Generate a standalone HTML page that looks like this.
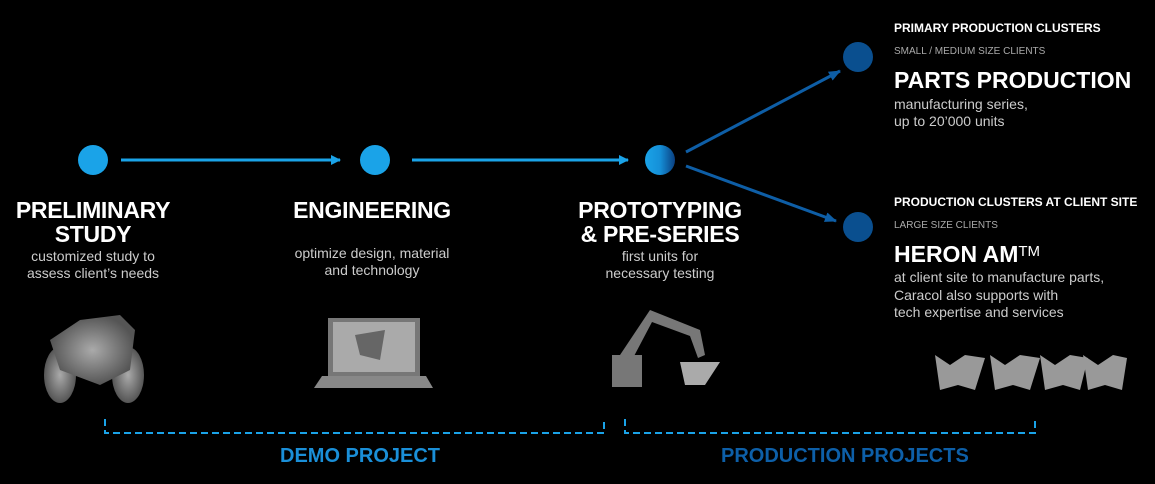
<!DOCTYPE html>
<html><head><style>
body{margin:0;width:1155px;height:484px;background:#000;overflow:hidden;font-family:"Liberation Sans",sans-serif;position:relative;color:#fff}
.t{position:absolute;white-space:nowrap}
.h{font-weight:bold;font-size:23px;line-height:24px;text-align:center;transform:translateX(-50%);letter-spacing:-0.3px}
.s{font-size:14px;line-height:17px;color:#ccc;text-align:center;transform:translateX(-50%)}
.r{left:894px}
</style></head><body>
<svg width="1155" height="484" style="position:absolute;left:0;top:0">
<defs>
<linearGradient id="g" x1="0" x2="1"><stop offset="0" stop-color="#1aa3e8"/><stop offset="0.5" stop-color="#1590d8"/><stop offset="1" stop-color="#0a3f80"/></linearGradient>
<marker id="a" markerWidth="10" markerHeight="10" refX="9" refY="5" orient="auto" markerUnits="userSpaceOnUse"><path d="M0,0L10,5L0,10z" fill="#1aa3e8"/></marker>
<marker id="b" markerWidth="12" markerHeight="10" refX="11" refY="5" orient="auto" markerUnits="userSpaceOnUse"><path d="M0,0L12,5L0,10z" fill="#0e5ea6"/></marker>
<radialGradient id="gr"><stop offset="0" stop-color="#aaa"/><stop offset="1" stop-color="#555"/></radialGradient>
</defs>
<circle cx="93" cy="160" r="15" fill="#1aa3e8"/>
<circle cx="375" cy="160" r="15" fill="#1aa3e8"/>
<circle cx="660" cy="160" r="15" fill="url(#g)"/>
<circle cx="858" cy="57" r="15" fill="#0a4f8f"/>
<circle cx="858" cy="227" r="15" fill="#0a4f8f"/>
<line x1="121" y1="160" x2="340" y2="160" stroke="#1aa3e8" stroke-width="3" marker-end="url(#a)"/>
<line x1="412" y1="160" x2="628" y2="160" stroke="#1aa3e8" stroke-width="3" marker-end="url(#a)"/>
<line x1="686" y1="152" x2="840" y2="71" stroke="#0e5ea6" stroke-width="3" marker-end="url(#b)"/>
<line x1="686" y1="166" x2="836" y2="221" stroke="#0e5ea6" stroke-width="3" marker-end="url(#b)"/>
<path d="M105,419V433H604V419" fill="none" stroke="#1aa3e8" stroke-width="2" stroke-dasharray="7,4"/>
<path d="M625,419V433H1035V419" fill="none" stroke="#1aa3e8" stroke-width="2" stroke-dasharray="7,4"/>
<g fill="url(#gr)">
<ellipse cx="60" cy="375" rx="16" ry="28"/><ellipse cx="128" cy="375" rx="16" ry="28"/>
<path d="M50,340L80,320L120,315L135,330L130,370L100,385L60,370z"/>
</g>
<rect x="328" y="318" width="92" height="58" fill="#777"/>
<rect x="333" y="322" width="82" height="50" fill="#aaa"/>
<path d="M355,335L385,330L380,360L360,355z" fill="#666"/>
<path d="M322,376H426L433,388H314z" fill="#888"/>
<g fill="#777">
<rect x="612" y="355" width="30" height="32"/>
<path d="M620,355L650,310L700,330L705,355L698,358L690,336L652,322L632,360z"/>
<path d="M680,362L720,362L705,385L685,385z" fill="#aaa"/>
</g>
<g fill="#999">
<path d="M935,355L950,365L965,355L985,358L975,390L958,385L940,390z"/>
<path d="M990,355L1005,365L1020,355L1040,358L1030,390L1013,385L995,390z"/>
<path d="M1040,355L1055,365L1070,355L1088,358L1080,390L1063,385L1045,390z"/>
<path d="M1083,355L1098,365L1113,355L1127,358L1122,390L1105,385L1088,390z"/>
</g>
</svg>
<div class="t h" style="left:93px;top:198px">PRELIMINARY<br>STUDY</div>
<div class="t s" style="left:93px;top:248px">customized study to<br>assess client’s needs</div>
<div class="t h" style="left:372px;top:198px">ENGINEERING</div>
<div class="t s" style="left:372px;top:245px">optimize design, material<br>and technology</div>
<div class="t h" style="left:660px;top:198px">PROTOTYPING<br>&amp; PRE-SERIES</div>
<div class="t s" style="left:660px;top:248px">first units for<br>necessary testing</div>
<div class="t r" style="top:21px;font-size:12px;font-weight:bold">PRIMARY PRODUCTION CLUSTERS</div>
<div class="t r" style="top:46px;font-size:10px;color:#aaa">SMALL / MEDIUM SIZE CLIENTS</div>
<div class="t r" style="top:67px;font-size:23px;font-weight:bold">PARTS PRODUCTION</div>
<div class="t r" style="top:96px;font-size:14px;line-height:17px;color:#ccc">manufacturing series,<br>up to 20’000 units</div>
<div class="t r" style="top:195px;font-size:12px;font-weight:bold">PRODUCTION CLUSTERS AT CLIENT SITE</div>
<div class="t r" style="top:220px;font-size:10px;color:#aaa">LARGE SIZE CLIENTS</div>
<div class="t r" style="top:241px;font-size:23px;font-weight:bold">HERON AM<span style="font-weight:normal;font-size:15px;vertical-align:6px">TM</span></div>
<div class="t r" style="top:269px;font-size:14px;line-height:17.5px;color:#ccc">at client site to manufacture parts,<br>Caracol also supports with<br>tech expertise and services</div>
<div class="t" style="left:280px;top:445px;font-size:20px;font-weight:bold;color:#1a8fd8">DEMO PROJECT</div>
<div class="t" style="left:721px;top:445px;font-size:20px;font-weight:bold;color:#0d5fa8">PRODUCTION PROJECTS</div>
</body></html>
